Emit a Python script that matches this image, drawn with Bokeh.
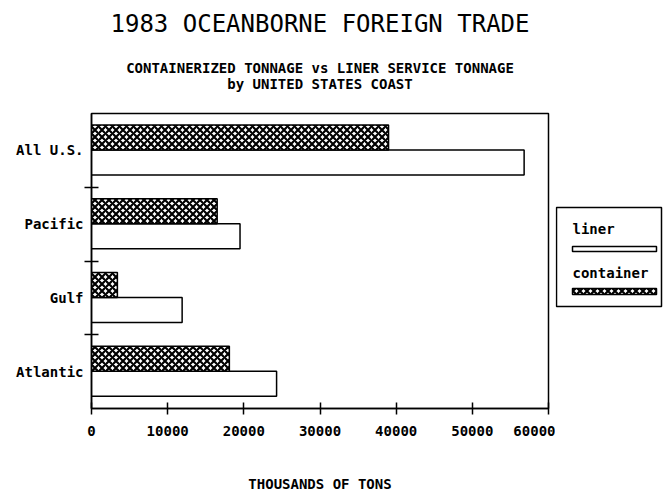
from bokeh.plotting import figure
from bokeh.models import FixedTicker, BasicTickFormatter, Title
from bokeh.layouts import row
from bokeh.embed import file_html
from bokeh.resources import INLINE
from bokeh.core.properties import value

# ---- data (thousands of tons) ----
regions = ["Atlantic", "Gulf", "Pacific", "All U.S."]
liner = [24300, 11900, 19500, 56800]
container = [18100, 3400, 16500, 39000]
x_ticks = [0, 10000, 20000, 30000, 40000, 50000, 60000]
series_names = ["liner", "container"]

title_text = "1983 OCEANBORNE FOREIGN TRADE"
sub1_text = "CONTAINERIZED TONNAGE vs LINER SERVICE TONNAGE"
sub2_text = "by UNITED STATES COAST"
xlabel_text = "THOUSANDS OF TONS"

# ---- layout / style constants ----
FONT = "DejaVu Sans Mono"
SMALL = "14px"
BAR_H = 0.34
H = 496
MAIN_W, LEG_W = 555, 108
FL, FR, FT, FB = 91, 548, 113, 408          # frame edges in page pixels
NCAT = len(regions)
HATCH = dict(hatch_pattern="diagonal_cross", hatch_color="black", hatch_scale=7,
             hatch_weight=2.2)

centers = [i + 0.5 for i in range(NCAT)]
y_liner = [c - BAR_H / 2 + 0.005 for c in centers]
y_cont = [c + BAR_H / 2 + 0.005 for c in centers]

p = figure(width=MAIN_W, height=H, x_range=(x_ticks[0], x_ticks[-1]), y_range=(0, NCAT),
           output_backend="svg", toolbar_location=None,
           min_border_left=FL, min_border_right=MAIN_W - FR, min_border_bottom=H - FB,
           min_border_top=0,
           background_fill_color="white", border_fill_color="white")
p.title.text = ""
p.title.visible = False

p.hbar(y=y_liner, left=0, right=liner, height=BAR_H, fill_color="white",
       line_color="black", line_width=1.5)
p.hbar(y=y_cont, left=0, right=container, height=BAR_H, fill_color="white",
       line_color="black", line_width=1.5, **HATCH)

p.xgrid.visible = False
p.ygrid.visible = False
p.outline_line_color = "black"
p.outline_line_width = 1.5

xa = p.xaxis[0]
xa.ticker = FixedTicker(ticks=x_ticks, minor_ticks=[])
xa.formatter = BasicTickFormatter(use_scientific=False)
xa.major_tick_in = 6
xa.major_tick_out = 6
xa.minor_tick_line_color = None
xa.axis_line_width = 1.5
xa.axis_line_color = "black"
xa.major_tick_line_width = 1.5
xa.major_tick_line_color = "black"
xa.major_label_standoff = 11
xa.major_label_text_font = FONT
xa.major_label_text_font_size = SMALL
xa.major_label_text_font_style = "bold"
xa.major_label_text_color = "black"
xa.axis_label = xlabel_text
xa.axis_label_text_font = FONT
xa.axis_label_text_font_size = SMALL
xa.axis_label_text_font_style = "bold"
xa.axis_label_text_color = "black"
xa.axis_label_standoff = 37

ya = p.yaxis[0]
ya.ticker = FixedTicker(ticks=centers, minor_ticks=[1, 2, 3])
ya.major_label_overrides = {c: r for c, r in zip(centers, regions)}
ya.major_tick_in = 0
ya.major_tick_out = 0
ya.minor_tick_in = 7
ya.minor_tick_out = 7
ya.minor_tick_line_width = 1.5
ya.minor_tick_line_color = "black"
ya.axis_line_width = 1.5
ya.axis_line_color = "black"
ya.major_label_standoff = 1
ya.major_label_text_font = FONT
ya.major_label_text_font_size = SMALL
ya.major_label_text_font_style = "bold"
ya.major_label_text_color = "black"


# ---- titles: stacked panels above the frame (innermost first) ----
def title(text, size, style, standoff):
    return Title(text=text, align="center", vertical_align="middle", text_font=FONT,
                 text_font_size=size, text_font_style=style, text_color="black",
                 standoff=standoff)


p.add_layout(title(" ", "13px", "bold", 5), "above")        # spacer
p.add_layout(title(sub2_text, SMALL, "bold", -2), "above")
p.add_layout(title(sub1_text, SMALL, "bold", -2), "above")
p.add_layout(title(" ", "13px", "bold", -3), "above")       # spacer
p.add_layout(title(title_text, "24px", "normal", 14), "above")

# ---- legend panel (label above its swatch, as in the original) ----
lg = figure(width=LEG_W, height=H, x_range=(0, 1), y_range=(0, 1),
            x_axis_type=None, y_axis_type=None,
            output_backend="svg", toolbar_location=None,
            min_border_left=0, min_border_right=0, min_border_top=FT,
            min_border_bottom=H - FB,
            background_fill_color="white", border_fill_color="white")
lg.title.text = ""
lg.title.visible = False
lg.xgrid.visible = False
lg.ygrid.visible = False
lg.outline_line_color = None


def lx(px):   # page x -> legend data x
    return (px - MAIN_W) / LEG_W


def ly(py):   # page y -> legend data y
    return (FB - py) / (FB - FT)


# box
lg.quad(left=[lx(556)], right=[lx(661)], top=[ly(207)], bottom=[ly(306)],
        fill_color="white", line_color="black", line_width=1.5)
# labels
lg.text(x=[lx(572), lx(572)], y=[ly(228), ly(272)], text=series_names,
        text_font=value(FONT), text_font_size=SMALL, text_font_style="bold",
        text_color="black", text_baseline="middle", text_align="left")
# swatches
lg.quad(left=[lx(572)], right=[lx(656)], top=[ly(246)], bottom=[ly(251)],
        fill_color="white", line_color="black", line_width=1.5)
lg.quad(left=[lx(572)], right=[lx(656)], top=[ly(288)], bottom=[ly(294)],
        fill_color="white", line_color="black", line_width=1.5, **HATCH)

layout = row(p, lg)
open("out.html", "w").write(file_html(layout, INLINE))
